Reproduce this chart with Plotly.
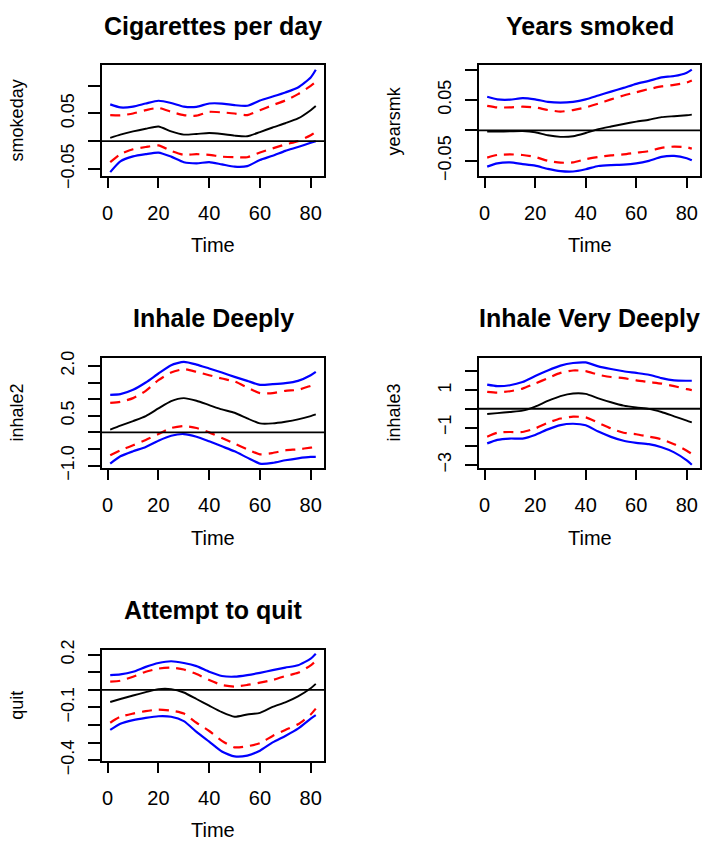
import plotly.graph_objects as go

# ---------------- data ----------------
TIME = [1, 5, 10, 15, 20, 25, 30, 35, 40, 45, 50, 55, 60, 65, 70, 75, 80, 82]
X_TICKS = [0, 20, 40, 60, 80]
X_TICK_LABELS = ["0", "20", "40", "60", "80"]

# Cigarettes per day
smokeday_est = [0.0059, 0.0118, 0.0176, 0.0224, 0.0265, 0.0176, 0.0118, 0.013, 0.0147, 0.013, 0.010, 0.0088, 0.0165, 0.0247, 0.0324, 0.041, 0.056, 0.0635]
smokeday_inner_hi = [0.047, 0.0465, 0.050, 0.056, 0.060, 0.053, 0.047, 0.046, 0.053, 0.052, 0.050, 0.047, 0.056, 0.065, 0.0735, 0.085, 0.100, 0.107]
smokeday_inner_lo = [-0.038, -0.0235, -0.0147, -0.0106, -0.0076, -0.0176, -0.0247, -0.0235, -0.0247, -0.028, -0.029, -0.029, -0.0206, -0.013, -0.0059, 0.0, 0.0106, 0.0165]
smokeday_outer_hi = [0.0665, 0.061, 0.0624, 0.068, 0.073, 0.069, 0.0624, 0.062, 0.068, 0.068, 0.065, 0.064, 0.0735, 0.0806, 0.088, 0.097, 0.115, 0.129]
smokeday_outer_lo = [-0.056, -0.0365, -0.0276, -0.0235, -0.0206, -0.028, -0.038, -0.040, -0.038, -0.042, -0.046, -0.045, -0.034, -0.0265, -0.0176, -0.0106, -0.003, 0.0]
smokeday_yticks = [-0.05, 0.0, 0.05, 0.10]
smokeday_ylabels = ["\u22120.05", "", "0.05", ""]

# Years smoked
yearsmk_est = [-0.002, -0.0018, -0.0016, -0.0012, -0.003, -0.008, -0.0106, -0.0096, -0.0043, 0.002, 0.0064, 0.0106, 0.0144, 0.0176, 0.0218, 0.0234, 0.025, 0.026]
yearsmk_inner_hi = [0.0404, 0.0378, 0.0378, 0.039, 0.0378, 0.0335, 0.031, 0.0335, 0.0378, 0.044, 0.051, 0.0574, 0.0628, 0.068, 0.0723, 0.075, 0.0787, 0.082]
yearsmk_inner_lo = [-0.0447, -0.0404, -0.0394, -0.0404, -0.0436, -0.05, -0.053, -0.0527, -0.0473, -0.0436, -0.041, -0.0394, -0.0367, -0.034, -0.0287, -0.0266, -0.0277, -0.03]
yearsmk_outer_hi = [0.0553, 0.051, 0.0505, 0.053, 0.051, 0.047, 0.0457, 0.047, 0.051, 0.0574, 0.0638, 0.070, 0.0766, 0.0814, 0.0872, 0.0894, 0.095, 0.1]
yearsmk_outer_lo = [-0.0596, -0.0543, -0.0527, -0.0553, -0.058, -0.0633, -0.067, -0.0676, -0.0638, -0.0585, -0.057, -0.0564, -0.0543, -0.05, -0.0436, -0.042, -0.0457, -0.049]
yearsmk_yticks = [-0.05, 0.0, 0.05, 0.10]
yearsmk_ylabels = ["\u22120.05", "", "0.05", ""]

# Inhale Deeply
inhale2_est = [0.08, 0.2, 0.34, 0.49, 0.72, 0.94, 1.03, 0.95, 0.82, 0.69, 0.59, 0.42, 0.27, 0.27, 0.32, 0.39, 0.49, 0.54]
inhale2_inner_hi = [0.89, 0.92, 1.03, 1.25, 1.57, 1.8, 1.9, 1.82, 1.72, 1.62, 1.53, 1.35, 1.18, 1.18, 1.25, 1.28, 1.4, 1.45]
inhale2_inner_lo = [-0.69, -0.54, -0.39, -0.23, -0.05, 0.13, 0.19, 0.13, 0.0, -0.17, -0.34, -0.51, -0.66, -0.62, -0.54, -0.51, -0.46, -0.44]
inhale2_outer_hi = [1.13, 1.15, 1.28, 1.5, 1.77, 2.02, 2.12, 2.04, 1.92, 1.8, 1.67, 1.55, 1.43, 1.45, 1.48, 1.55, 1.72, 1.82]
inhale2_outer_lo = [-0.94, -0.72, -0.57, -0.44, -0.25, -0.1, -0.05, -0.13, -0.27, -0.42, -0.57, -0.76, -0.94, -0.92, -0.84, -0.78, -0.74, -0.74]
inhale2_yticks = [-1.0, -0.5, 0.0, 0.5, 1.0, 1.5, 2.0]
inhale2_ylabels = ["\u22121.0", "", "", "0.5", "", "", "2.0"]

# Inhale Very Deeply
inhale3_est = [-0.28, -0.23, -0.17, -0.1, 0.12, 0.42, 0.68, 0.82, 0.8, 0.56, 0.35, 0.17, 0.07, 0.0, -0.17, -0.4, -0.63, -0.73]
inhale3_inner_hi = [0.91, 0.87, 0.94, 1.08, 1.35, 1.64, 1.92, 2.05, 2.02, 1.82, 1.7, 1.64, 1.52, 1.43, 1.35, 1.21, 1.05, 1.0]
inhale3_inner_lo = [-1.49, -1.28, -1.24, -1.24, -1.05, -0.75, -0.52, -0.42, -0.46, -0.75, -1.05, -1.28, -1.36, -1.49, -1.63, -1.89, -2.24, -2.41]
inhale3_outer_hi = [1.29, 1.21, 1.26, 1.43, 1.75, 2.05, 2.31, 2.45, 2.48, 2.27, 2.13, 2.01, 1.92, 1.82, 1.64, 1.52, 1.5, 1.5]
inhale3_outer_lo = [-1.85, -1.66, -1.59, -1.59, -1.4, -1.1, -0.87, -0.8, -0.88, -1.22, -1.5, -1.71, -1.82, -1.89, -2.06, -2.33, -2.76, -2.99]
inhale3_yticks = [-3, -2, -1, 0, 1, 2]
inhale3_ylabels = ["\u22123", "", "\u22121", "", "1", ""]

# Attempt to quit
quit_est = [-0.069, -0.052, -0.032, -0.013, 0.004, 0.004, -0.015, -0.052, -0.09, -0.127, -0.153, -0.14, -0.131, -0.097, -0.071, -0.037, 0.009, 0.034]
quit_inner_hi = [0.047, 0.052, 0.075, 0.103, 0.121, 0.127, 0.116, 0.09, 0.056, 0.028, 0.019, 0.028, 0.041, 0.056, 0.079, 0.097, 0.14, 0.164]
quit_inner_lo = [-0.187, -0.153, -0.135, -0.121, -0.112, -0.118, -0.135, -0.187, -0.234, -0.29, -0.327, -0.321, -0.303, -0.262, -0.228, -0.196, -0.14, -0.107]
quit_outer_hi = [0.084, 0.088, 0.103, 0.131, 0.153, 0.163, 0.153, 0.135, 0.103, 0.079, 0.075, 0.084, 0.097, 0.112, 0.127, 0.14, 0.178, 0.206]
quit_outer_lo = [-0.228, -0.193, -0.172, -0.159, -0.15, -0.153, -0.178, -0.239, -0.295, -0.351, -0.379, -0.374, -0.346, -0.299, -0.262, -0.221, -0.164, -0.144]
quit_yticks = [-0.4, -0.3, -0.2, -0.1, 0.0, 0.1, 0.2]
quit_ylabels = ["\u22120.4", "", "", "\u22120.1", "", "", "0.2"]

panels = [
    dict(title="Cigarettes per day", ylab="smokeday", est=smokeday_est, ihi=smokeday_inner_hi, ilo=smokeday_inner_lo,
         ohi=smokeday_outer_hi, olo=smokeday_outer_lo, yt=smokeday_yticks, yl=smokeday_ylabels,
         box=(102, 324, 57, 171), yrange=[-0.063, 0.137], ylabx=16.7),
    dict(title="Years smoked", ylab="yearsmk", est=yearsmk_est, ihi=yearsmk_inner_hi, ilo=yearsmk_inner_lo,
         ohi=yearsmk_outer_hi, olo=yearsmk_outer_lo, yt=yearsmk_yticks, yl=yearsmk_ylabels,
         box=(479, 700, 57, 171), yrange=[-0.075, 0.107], ylabx=393.7),
    dict(title="Inhale Deeply", ylab="inhale2", est=inhale2_est, ihi=inhale2_inner_hi, ilo=inhale2_inner_lo,
         ohi=inhale2_outer_hi, olo=inhale2_outer_lo, yt=inhale2_yticks, yl=inhale2_ylabels,
         box=(102, 324, 358, 472), yrange=[-1.08, 2.25], ylabx=16.7),
    dict(title="Inhale Very Deeply", ylab="inhale3", est=inhale3_est, ihi=inhale3_inner_hi, ilo=inhale3_inner_lo,
         ohi=inhale3_outer_hi, olo=inhale3_outer_lo, yt=inhale3_yticks, yl=inhale3_ylabels,
         box=(479, 700, 358, 472), yrange=[-3.18, 2.74], ylabx=393.7),
    dict(title="Attempt to quit", ylab="quit", est=quit_est, ihi=quit_inner_hi, ilo=quit_inner_lo,
         ohi=quit_outer_hi, olo=quit_outer_lo, yt=quit_yticks, yl=quit_ylabels,
         box=(102, 324, 659, 773), yrange=[-0.402, 0.228], ylabx=16.7),
]

W, H = 714, 859
FONT = "Liberation Sans, Arial, Helvetica, sans-serif"
BLUE = "#0000FF"
RED = "#FF0000"

fig = go.Figure()
layout = dict(width=W, height=H, margin=dict(l=0, r=0, t=0, b=0), showlegend=False,
              plot_bgcolor="white", paper_bgcolor="white", font=dict(family=FONT, color="black"))
annotations = []
shapes = []

for i, p in enumerate(panels):
    n = "" if i == 0 else str(i + 1)
    xa, ya = "x" + n, "y" + n
    x0, x1, y0, y1 = p["box"]
    common = dict(xaxis=xa, yaxis=ya, mode="lines", line_shape="spline", hoverinfo="skip")
    fig.add_trace(go.Scatter(x=TIME, y=p["ohi"], line=dict(color=BLUE, width=2.2, smoothing=0.6), **common))
    fig.add_trace(go.Scatter(x=TIME, y=p["olo"], line=dict(color=BLUE, width=2.2, smoothing=0.6), **common))
    fig.add_trace(go.Scatter(x=TIME, y=p["ihi"], line=dict(color=RED, width=2.2, dash="10px,7px", smoothing=0.6), **common))
    fig.add_trace(go.Scatter(x=TIME, y=p["ilo"], line=dict(color=RED, width=2.2, dash="10px,7px", smoothing=0.6), **common))
    fig.add_trace(go.Scatter(x=TIME, y=p["est"], line=dict(color="black", width=1.9, smoothing=0.6), **common))

    layout["xaxis" + n] = dict(domain=[x0 / W, x1 / W], anchor=ya, range=[-2.24, 85.24],
                               tickvals=X_TICKS, ticktext=X_TICK_LABELS, ticks="outside", ticklen=10,
                               tickwidth=1.8, tickcolor="black", showline=True, linecolor="black",
                               linewidth=2, mirror=True, showgrid=False, zeroline=False,
                               tickfont=dict(size=20, family=FONT), ticklabelstandoff=8, fixedrange=True)
    layout["yaxis" + n] = dict(domain=[1 - y1 / H, 1 - y0 / H], anchor=xa, range=p["yrange"],
                               tickvals=p["yt"], ticktext=p["yl"], ticks="outside", ticklen=12,
                               tickwidth=1.8, tickcolor="black", showline=True, linecolor="black",
                               linewidth=2, mirror=True, showgrid=False, zeroline=False, tickangle=-90,
                               tickfont=dict(size=18, family=FONT), ticklabelstandoff=7, fixedrange=True)
    # horizontal reference line at zero
    shapes.append(dict(type="line", xref=xa + " domain", yref=ya, x0=0, x1=1, y0=0, y1=0,
                       line=dict(color="black", width=1.9)))
    cx = (x0 + x1) / 2 / W
    annotations.append(dict(text="<b>" + p["title"] + "</b>", x=cx, y=1 - (y0 - 40.5) / H, xref="paper",
                            yref="paper", showarrow=False, xanchor="center", yanchor="middle",
                            font=dict(size=25, family=FONT)))
    annotations.append(dict(text="Time", x=cx, y=1 - (y1 + 71.5) / H, xref="paper", yref="paper",
                            showarrow=False, xanchor="center", yanchor="middle", font=dict(size=20, family=FONT)))
    annotations.append(dict(text=p["ylab"], x=p["ylabx"] / W, y=1 - ((y0 + y1) / 2) / H, xref="paper",
                            yref="paper", showarrow=False, xanchor="center", yanchor="middle", textangle=-90,
                            font=dict(size=18, family=FONT)))

layout["annotations"] = annotations
layout["shapes"] = shapes
fig.update_layout(**layout)
fig.write_html("out.html", config={"displayModeBar": False},
               post_script="document.body.style.margin='0';document.body.style.overflow='hidden';")
